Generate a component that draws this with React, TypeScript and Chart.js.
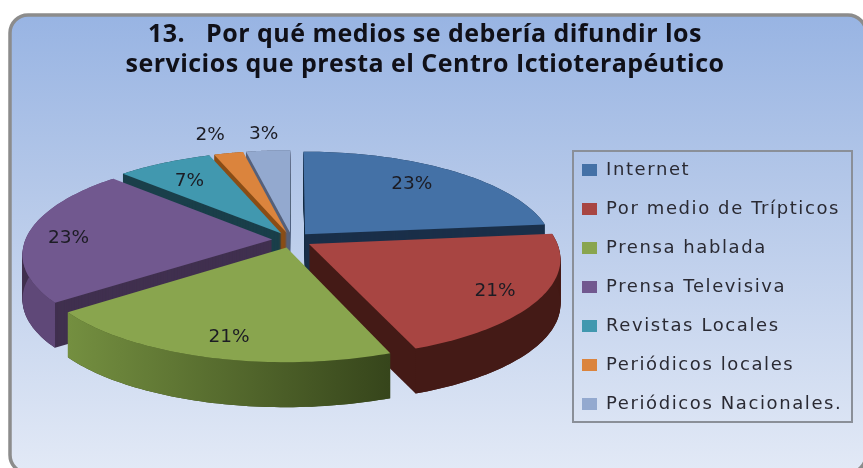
import React, { useEffect, useRef } from "react";
import { Chart, registerables } from "chart.js";

Chart.register(...registerables);

const titleLines = ["13.   Por qué medios se debería difundir los", "servicios que presta el Centro Ictioterapéutico"];
const categories = ["Internet", "Por medio de Trípticos", "Prensa hablada", "Prensa Televisiva", "Revistas Locales", "Periódicos locales", "Periódicos Nacionales."];
const values = [23.3, 20.8, 20.6, 22.6, 7.2, 2.2, 3.3];
const topColors = ["#4471a6", "#a84542", "#89a54e", "#71588f", "#4198af", "#db843d", "#93a9cf"];
const sideColors = ["#1a2f49", "#441a16", "#36451b", "#40304f", "#1a3f4a", "#8a4d16", "#55607a"];
const outerFrom = ["#1a2f49", "#441a16", "#748f40", "#5f4878", "#1a3f4a", "#8a4d16", "#55607a"];
const outerTo = ["#1a2f49", "#441a16", "#36451b", "#5f4878", "#1a3f4a", "#8a4d16", "#55607a"];
const labelRadii = [0.72, 0.88, 0.84, 0.83, 0.72, 1.27, 1.24];
const labelNudgeX = [-2, -15, 8, -1, -5, -5, 0];
const labelNudgeY = [-3, 0, 0, 4, 0, 0, 0];
const drawOrder = [0, 6, 5, 4, 3, 1, 2];

const CX = 292, CY = 240, RX = 247, RY = 96, K = 1 / 7, DEPTH = 45;

function project(u: number, v: number): [number, number] {
  const s = 1 / (1 - K * v);
  return [CX + RX * u * s, CY + RY * v * s];
}

function slicePoints(el: any) {
  const r = 1;
  const off = (el.options.offset || 0) / el.outerRadius;
  const mid = (el.startAngle + el.endAngle) / 2;
  const ou = Math.cos(mid) * off, ov = Math.sin(mid) * off;
  const arc: [number, number][] = [];
  const n = 60;
  for (let i = 0; i <= n; i++) {
    const a = el.startAngle + ((el.endAngle - el.startAngle) * i) / n;
    arc.push(project(ou + Math.cos(a) * r, ov + Math.sin(a) * r));
  }
  return { apex: project(ou, ov), arc };
}

function poly(ctx: CanvasRenderingContext2D, pts: [number, number][], dy = 0) {
  ctx.beginPath();
  pts.forEach((p, i) => (i ? ctx.lineTo(p[0], p[1] + dy) : ctx.moveTo(p[0], p[1] + dy)));
  ctx.closePath();
}

const pie3d = {
  id: "pie3d",
  beforeDraw(chart: any) {
    const ctx = chart.ctx as CanvasRenderingContext2D;
    ctx.save();
    ctx.fillStyle = "#ffffff";
    ctx.fillRect(0, 0, 863, 468);
    const g = ctx.createLinearGradient(0, 15, 0, 470);
    g.addColorStop(0, "#98b4e3");
    g.addColorStop(0.35, "#b2c6e8");
    g.addColorStop(1, "#e2e9f6");
    ctx.beginPath();
    ctx.roundRect(10, 15, 856, 458, 18);
    ctx.fillStyle = g;
    ctx.fill();
    ctx.lineWidth = 3.5;
    ctx.strokeStyle = "#8c8c8c";
    ctx.stroke();
    ctx.lineWidth = 2;
    ctx.strokeStyle = "#8a8f98";
    ctx.strokeRect(573, 151, 279, 271);
    ctx.restore();
  },
  afterLayout(chart: any) {
    const legend = chart.legend;
    if (legend && !legend.__patched) {
      legend.__patched = true;
      const orig = legend.draw.bind(legend);
      legend.draw = function (...args: any[]) {
        const ctx = chart.ctx;
        legend.left = 561;
        legend.top = 140;
        ctx.save();
        ctx.letterSpacing = "1.6px";
        orig(...args);
        ctx.restore();
      };
    }
    const title = chart.titleBlock;
    if (title && !title.__patched) {
      title.__patched = true;
      const orig = title.draw.bind(title);
      title.draw = function (...args: any[]) {
        const ctx = chart.ctx;
        ctx.save();
        ctx.letterSpacing = "0.47px";
        orig(...args);
        ctx.restore();
      };
    }
  },
  beforeDatasetsDraw(chart: any) {
    const ctx = chart.ctx as CanvasRenderingContext2D;
    const meta = chart.getDatasetMeta(0);
    ctx.save();
    drawOrder.forEach((i) => {
      const el = meta.data[i];
      const { apex, arc } = slicePoints(el);
      const face: [number, number][] = [apex, ...arc];
      ctx.fillStyle = sideColors[i];
      for (let d = DEPTH; d > 0; d -= 1) {
        poly(ctx, face, d);
        ctx.fill();
      }
      const xs = arc.map((p) => p[0]);
      const g = ctx.createLinearGradient(Math.min(...xs), 0, Math.max(...xs), 0);
      g.addColorStop(0, outerFrom[i]);
      g.addColorStop(1, outerTo[i]);
      const wall: [number, number][] = [...arc, ...arc.slice().reverse().map((p) => [p[0], p[1] + DEPTH] as [number, number])];
      poly(ctx, wall);
      ctx.fillStyle = g;
      ctx.fill();
      poly(ctx, face);
      ctx.fillStyle = topColors[i];
      ctx.fill();
    });
    ctx.font = "18.5px 'DejaVu Sans'";
    ctx.fillStyle = "#1c1c24";
    ctx.textAlign = "center";
    ctx.textBaseline = "middle";
    const total = values.reduce((a, b) => a + b, 0);
    values.forEach((v, i) => {
      const el = meta.data[i];
      const off = el.options.offset / el.outerRadius;
      const mid = (el.startAngle + el.endAngle) / 2;
      const rr = labelRadii[i] + off;
      const [x, y] = project(Math.cos(mid) * rr, Math.sin(mid) * rr);
      ctx.fillText(`${Math.round((v / total) * 100)}%`, x + labelNudgeX[i], y + labelNudgeY[i]);
    });
    ctx.restore();
    return false;
  },
};

export default function App() {
  const ref = useRef<HTMLCanvasElement>(null);
  useEffect(() => {
    const chart = new Chart(ref.current!, {
      type: "pie",
      data: {
        labels: categories,
        datasets: [{ data: values, backgroundColor: topColors, borderWidth: 0, offset: 8 }],
      },
      options: {
        animation: false,
        responsive: false,
        radius: 100,
        layout: { padding: { left: 0, right: 13, top: 0, bottom: 0 } },
        plugins: {
          title: {
            display: true,
            text: titleLines,
            color: "#101018",
            font: { family: "'Open Sans'", size: 25, weight: "bold", lineHeight: 1.2 },
            padding: { top: 20, bottom: 60 },
          },
          legend: {
            position: "right",
            align: "start",
            labels: {
              color: "#2a2a33",
              font: { family: "'DejaVu Sans'", size: 18 },
              boxWidth: 15,
              boxHeight: 12,
              padding: 21,
            },
          },
          tooltip: { enabled: false },
        },
      } as any,
      plugins: [pie3d as any],
    });
    return () => chart.destroy();
  }, []);
  return (
    <div style={{ position: "fixed", left: 0, top: 0, width: 863, height: 468 }}>
      <canvas ref={ref} width={863} height={468} style={{ display: "block" }} />
    </div>
  );
}
